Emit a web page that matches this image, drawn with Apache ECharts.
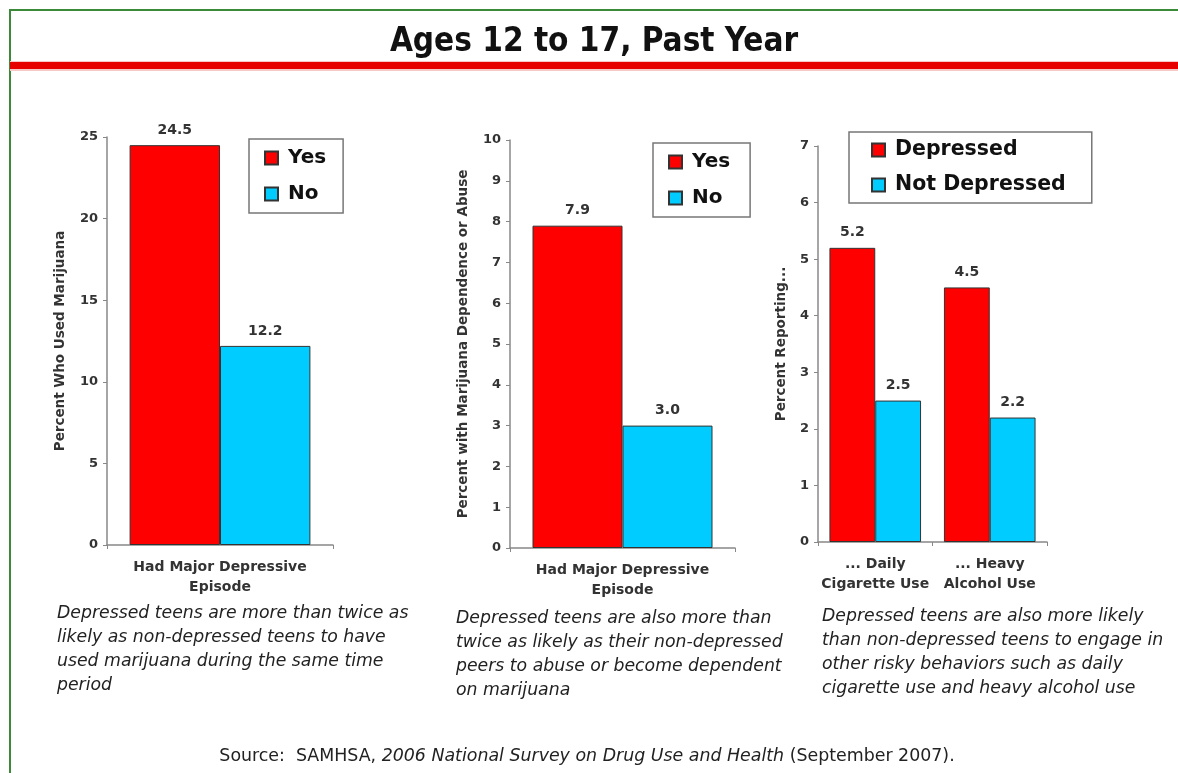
<!DOCTYPE html>
<html><head><meta charset="utf-8">
<script src="https://cdn.jsdelivr.net/npm/echarts@6/dist/echarts.min.js"></script>
<style>html,body{margin:0;padding:0;background:#fff}#c{width:1178px;height:773px}</style>
</head><body><div id="c"></div>
<script>
const titleText = 'Ages 12 to 17, Past Year';
const chart1Categories = ['Had Major Depressive\nEpisode'];
const chart1Yes = [24.5];
const chart1No = [12.2];
const chart2Categories = ['Had Major Depressive\nEpisode'];
const chart2Yes = [7.9];
const chart2No = [3.0];
const chart3Categories = ['... Daily\nCigarette Use', '... Heavy\nAlcohol Use'];
const chart3Depressed = [5.2, 4.5];
const chart3NotDepressed = [2.5, 2.2];
const yNames = ['Percent Who Used Marijuana', 'Percent with Marijuana Dependence or Abuse', 'Percent Reporting...'];
const yScales = [{min:0,max:25,interval:5},{min:0,max:10,interval:1},{min:0,max:7,interval:1}];
const captions = [
  'Depressed teens are more than twice as\nlikely as non-depressed teens to have\nused marijuana during the same time\nperiod',
  'Depressed teens are also more than\ntwice as likely as their non-depressed\npeers to abuse or become dependent\non marijuana',
  'Depressed teens are also more likely\nthan non-depressed teens to engage in\nother risky behaviors such as daily\ncigarette use and heavy alcohol use'
];
const sourceParts = ['Source:  SAMHSA, ', '2006 National Survey on Drug Use and Health', ' (September 2007).'];

const RED = '#ff0000', BLUE = '#00ccff';
const FF = '"DejaVu Sans", Verdana, sans-serif';
const FFC = '"DejaVu Sans Condensed", "DejaVu Sans", sans-serif';

const grids = [
  {left:107, top:137, width:226, height:408},
  {left:510, top:140, width:225, height:408},
  {left:818, top:146, width:229, height:396}
];
const cats = [chart1Categories, chart2Categories, chart3Categories];
const nameGaps = [40, 40, 30];

const xAxes = cats.map((c,i)=>({
  type:'category', gridIndex:i, data:c,
  axisLine:{lineStyle:{color:'#888',width:1.5}},
  axisTick:{show:true,length:4,lineStyle:{color:'#888'}},
  axisLabel:{interval:0,fontFamily:FF,fontWeight:'bold',fontSize:14,color:'#333',lineHeight:20,margin:12}
}));
const yAxes = yScales.map((s,i)=>({
  type:'value', gridIndex:i, min:s.min, max:s.max, interval:s.interval,
  name:yNames[i], nameLocation:'middle', nameGap:nameGaps[i], nameRotate:90,
  nameTextStyle:{fontFamily:FF,fontWeight:'bold',fontSize:13.5,color:'#333'},
  splitLine:{show:false},
  axisLine:{show:true,lineStyle:{color:'#888',width:1.5}},
  axisTick:{show:true,length:4,lineStyle:{color:'#888'}},
  axisLabel:{fontFamily:FF,fontWeight:'bold',fontSize:13,color:'#333',margin:9}
}));

function bar(name, data, idx, color){
  return {
    type:'bar', name, data, xAxisIndex:idx, yAxisIndex:idx,
    barGap:'0%', barCategoryGap:'20%',
    itemStyle:{color, borderColor:'#333', borderWidth:1},
    label:{show:true, position:'top', distance:8, formatter:p=>p.value.toFixed(1),
      fontFamily:FF, fontWeight:'bold', fontSize:14, color:'#333'},
    emphasis:{disabled:true}
  };
}
const series = [
  bar('Yes', chart1Yes, 0, RED), bar('No', chart1No, 0, BLUE),
  bar('Yes', chart2Yes, 1, RED), bar('No', chart2No, 1, BLUE),
  bar('Depressed', chart3Depressed, 2, RED), bar('Not Depressed', chart3NotDepressed, 2, BLUE)
];

function legend(data, left, top, gap, pad, fs){
  return {
    data, left, top, orient:'vertical', icon:'rect', itemWidth:13, itemHeight:13, itemGap:gap,
    padding:pad, borderColor:'#777', borderWidth:1.5, selectedMode:false,
    textStyle:{fontFamily:FF, fontWeight:'bold', fontSize:fs, color:'#111', lineHeight:24, padding:[0,0,0,5]}
  };
}

const option = {
  animation:false,
  backgroundColor:'#fff',
  grid:grids,
  xAxis:xAxes, yAxis:yAxes, series,
  legend:[
    legend(['Yes','No'], 249, 139, 12, [7,17,7,15], 20),
    legend(['Yes','No'], 653, 143, 12, [7,20,7,15], 20),
    legend(['Depressed','Not Depressed'], 849, 132, 11, [6,26,6,22], 20.5)
  ],
  graphic:[
    {type:'rect', shape:{x:10,y:10,width:1200,height:800}, style:{fill:'none',stroke:'#3a8a3a',lineWidth:2}, silent:true},
    {type:'rect', shape:{x:10,y:61,width:1170,height:10}, style:{fill:'#f6c8c8'}, silent:true},
    {type:'rect', shape:{x:10,y:62,width:1170,height:7}, style:{fill:'#e60000'}, silent:true},
    {type:'text', x:594, y:42, style:{text:titleText, align:'center', verticalAlign:'middle',
      fontFamily:FFC, fontWeight:'bold', fontSize:33, fill:'#111'}, silent:true},
    {type:'text', x:57, y:602, style:{text:captions[0], fontFamily:FF, fontStyle:'italic', fontSize:17.3, lineHeight:24, fill:'#222'}, silent:true},
    {type:'text', x:456, y:607, style:{text:captions[1], fontFamily:FF, fontStyle:'italic', fontSize:17.3, lineHeight:24, fill:'#222'}, silent:true},
    {type:'text', x:822, y:605, style:{text:captions[2], fontFamily:FF, fontStyle:'italic', fontSize:17.3, lineHeight:24, fill:'#222'}, silent:true},
    {type:'text', x:587, y:756, style:{
      text:'{n|'+sourceParts[0]+'}{i|'+sourceParts[1]+'}{n|'+sourceParts[2]+'}',
      align:'center', verticalAlign:'middle',
      rich:{
        n:{fontFamily:FF, fontSize:17.4, fill:'#222'},
        i:{fontFamily:FF, fontSize:17.4, fontStyle:'italic', fill:'#222'}
      }}, silent:true}
  ]
};
const chart = echarts.init(document.getElementById('c'), null, {renderer:'canvas'});
chart.setOption(option);
</script>
</body></html>
